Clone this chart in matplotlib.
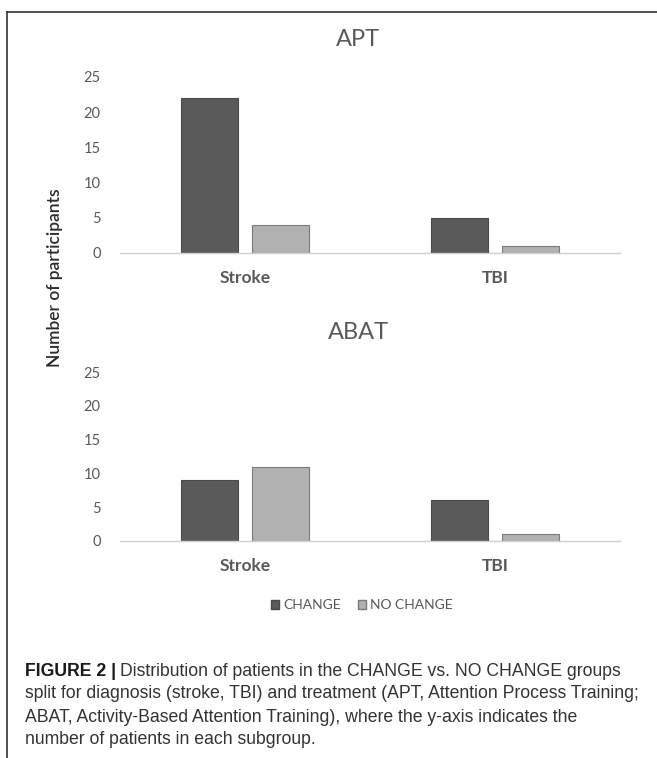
import numpy as np
import matplotlib
matplotlib.use("Agg")
import matplotlib.pyplot as plt
from matplotlib.lines import Line2D
from matplotlib.patches import Patch

plt.rcParams['font.family'] = ['Lato', 'DejaVu Sans']

categories = ['Stroke', 'TBI']
series = ['CHANGE', 'NO CHANGE']
apt_change = [22, 5]
apt_no_change = [4, 1]
abat_change = [9, 6]
abat_no_change = [11, 1]
yticks = [0, 5, 10, 15, 20, 25]

caption_bold = 'FIGURE 2 |'
caption_lines = [
    'Distribution of patients in the CHANGE vs. NO CHANGE groups',
    'split for diagnosis (stroke, TBI) and treatment (APT, Attention Process Training;',
    'ABAT, Activity-Based Attention Training), where the y-axis indicates the',
    'number of patients in each subgroup.',
]

W, H = 657, 758
DARK = '#5a5a5a'
LIGHT = '#b1b1b1'
TXT = '#595959'

fig = plt.figure(figsize=(W / 100, H / 100), dpi=100)


def px(x, y):
    return x / W, 1 - y / H


def panel(y_zero, y_top, title, title_y, change, no_change):
    left, bottom = px(120, y_zero)
    ax = fig.add_axes([left, bottom, 500 / W, (y_zero - y_top) / H])
    x = np.arange(len(categories))
    w = 0.228
    off = 0.142
    ax.bar(x - off, change, w, color=DARK, edgecolor='#4a4a4a', linewidth=0.8)
    ax.bar(x + off, no_change, w, color=LIGHT, edgecolor='#7a7a7a', linewidth=0.8)
    ax.set_xlim(-0.5, 1.5)
    ax.set_ylim(0, 25)
    ax.set_yticks(yticks)
    ax.set_xticks(x)
    ax.set_xticklabels(categories, fontsize=12.5, fontweight='bold', color=TXT)
    ax.tick_params(axis='y', length=0, pad=14, labelsize=10.5, labelcolor=TXT)
    ax.tick_params(axis='x', length=0, pad=12)
    for s in ['top', 'right', 'left']:
        ax.spines[s].set_visible(False)
    ax.spines['bottom'].set_color('#d0d0d0')
    ax.spines['bottom'].set_linewidth(1.0)
    tx, ty = px(358, title_y)
    fig.text(tx, ty, title, ha='center', va='center', fontsize=17, color=TXT)
    return ax


panel(253, 77, 'APT', 39, apt_change, apt_no_change)
panel(541, 372, 'ABAT', 333, abat_change, abat_no_change)

lx, ly = px(55, 278)
fig.text(lx, ly, 'Number of participants', rotation=90, ha='center', va='center',
         fontsize=12.5, fontweight='semibold', color='#2b2b2b')

handles = [Patch(facecolor=DARK, edgecolor='#4a4a4a'),
           Patch(facecolor=LIGHT, edgecolor='#7a7a7a')]
gx, gy = px(362, 605)
fig.legend(handles, series, loc='center', bbox_to_anchor=(gx, gy), ncol=2,
           frameon=False, fontsize=10, labelcolor=TXT, handlelength=0.6,
           handleheight=0.6, handletextpad=0.3, columnspacing=1.2)

# frame around the figure panel
fig.add_artist(Line2D([7 / W, 1], [1 - 12 / H] * 2, transform=fig.transFigure,
                      color='#333333', linewidth=1.2))
fig.add_artist(Line2D([7 / W] * 2, [1 - 12 / H, 0], transform=fig.transFigure,
                      color='#333333', linewidth=1.2))

# caption
cap_font = ['Liberation Sans', 'DejaVu Sans']
cap_size = 12.7
line_y = [671, 694, 717, 740]
cx, cy = px(25, line_y[0])
t0 = fig.text(cx, cy, caption_bold, family=cap_font, fontweight='bold',
              fontsize=cap_size, color='#1a1a1a', va='center')
fig.canvas.draw()
bb = t0.get_window_extent()
fig.text(bb.x1 / W + 4 / W, cy, caption_lines[0], family=cap_font, fontsize=cap_size,
         color='#333333', va='center')
for txt, yy in zip(caption_lines[1:], line_y[1:]):
    fig.text(cx, 1 - yy / H, txt, family=cap_font, fontsize=cap_size,
             color='#333333', va='center')

fig.savefig('out.png', dpi=100)
